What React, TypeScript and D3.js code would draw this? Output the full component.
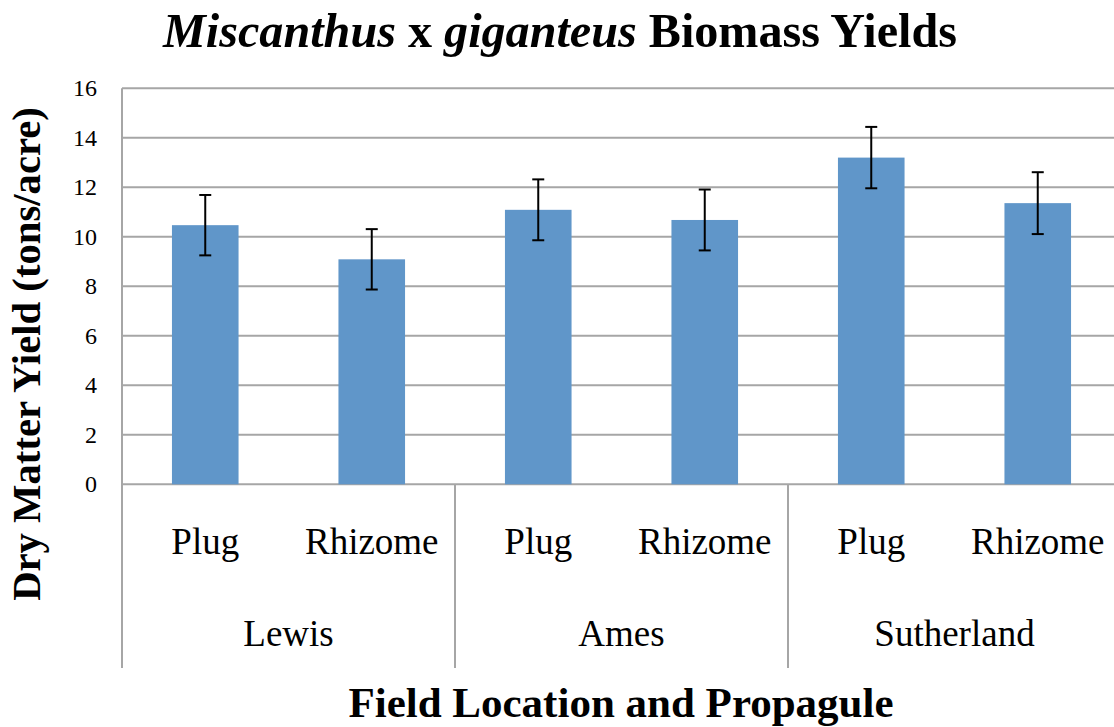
import { useEffect, useRef } from 'react';
import * as d3 from 'd3';

// Field locations and propagule types
const locations = ['Lewis', 'Ames', 'Sutherland'];
const propagules = ['Plug', 'Rhizome'];

// Mean dry matter yield (tons/acre), in order Lewis Plug, Lewis Rhizome, Ames Plug, ...
const yields = [10.47, 9.09, 11.09, 10.68, 13.2, 11.36];
// Error bar half-widths
const errors = [1.22, 1.22, 1.23, 1.23, 1.24, 1.25];

const yTicks = [0, 2, 4, 6, 8, 10, 12, 14, 16];

export default function App() {
  const svgRef = useRef<SVGSVGElement>(null);

  useEffect(() => {
    if (!svgRef.current) return;
    const svg = d3.select(svgRef.current);
    svg.selectAll('*').remove();

    const plotLeft = 122;
    const plotRight = 1121;
    const plotTop = 88.3;
    const plotBottom = 484.3;
    const axisBottom = 668;
    const font = '"Liberation Serif", "Times New Roman", serif';
    const gridColor = '#a6a6a6';

    const bars = locations.flatMap(loc => propagules.map(p => ({ loc, p, key: `${loc}-${p}` })));
    const data = bars.map((b, i) => ({ ...b, value: yields[i], err: errors[i] }));

    const x = d3.scaleBand<string>()
      .domain(data.map(d => d.key))
      .range([plotLeft, plotRight])
      .paddingInner(0.6)
      .paddingOuter(0.3);

    const xGroup = d3.scaleBand<string>()
      .domain(locations)
      .range([plotLeft, plotRight]);

    const y = d3.scaleLinear()
      .domain([0, 16])
      .range([plotBottom, plotTop]);

    // Gridlines
    svg.append('g')
      .selectAll('line')
      .data(yTicks)
      .enter()
      .append('line')
      .attr('x1', plotLeft).attr('x2', plotRight)
      .attr('y1', d => y(d)).attr('y2', d => y(d))
      .attr('stroke', gridColor)
      .attr('stroke-width', 2);

    // Y tick labels
    svg.append('g')
      .selectAll('text')
      .data(yTicks)
      .enter()
      .append('text')
      .attr('x', 97)
      .attr('y', d => y(d) + 8)
      .attr('text-anchor', 'end')
      .style('font-family', font)
      .style('font-size', '24px')
      .attr('fill', '#000')
      .text(d => d);

    // Y axis line and category separators
    svg.append('line')
      .attr('x1', plotLeft).attr('x2', plotLeft)
      .attr('y1', plotTop).attr('y2', axisBottom)
      .attr('stroke', gridColor).attr('stroke-width', 2);

    locations.forEach(loc => {
      const gx = (xGroup(loc) as number) + xGroup.bandwidth();
      svg.append('line')
        .attr('x1', gx).attr('x2', gx)
        .attr('y1', plotBottom).attr('y2', axisBottom)
        .attr('stroke', gridColor).attr('stroke-width', 2);
    });

    // Bars
    svg.append('g')
      .selectAll('rect')
      .data(data)
      .enter()
      .append('rect')
      .attr('x', d => x(d.key) as number)
      .attr('y', d => y(d.value))
      .attr('width', x.bandwidth())
      .attr('height', d => y(0) - y(d.value))
      .attr('fill', '#6096c9');

    // Error bars
    const eb = svg.append('g')
      .selectAll('g')
      .data(data)
      .enter()
      .append('g')
      .attr('stroke', '#000')
      .attr('stroke-width', 2);
    const cx = (d: typeof data[number]) => (x(d.key) as number) + x.bandwidth() / 2;
    eb.append('line')
      .attr('x1', cx).attr('x2', cx)
      .attr('y1', d => y(d.value + d.err)).attr('y2', d => y(d.value - d.err));
    eb.append('line')
      .attr('x1', d => cx(d) - 6).attr('x2', d => cx(d) + 6)
      .attr('y1', d => y(d.value + d.err)).attr('y2', d => y(d.value + d.err));
    eb.append('line')
      .attr('x1', d => cx(d) - 6).attr('x2', d => cx(d) + 6)
      .attr('y1', d => y(d.value - d.err)).attr('y2', d => y(d.value - d.err));

    // Propagule labels
    svg.append('g')
      .selectAll('text')
      .data(data)
      .enter()
      .append('text')
      .attr('x', cx)
      .attr('y', 554)
      .attr('text-anchor', 'middle')
      .style('font-family', font)
      .style('font-size', '37px')
      .text(d => d.p);

    // Location labels
    svg.append('g')
      .selectAll('text')
      .data(locations)
      .enter()
      .append('text')
      .attr('x', d => (xGroup(d) as number) + xGroup.bandwidth() / 2)
      .attr('y', 646)
      .attr('text-anchor', 'middle')
      .style('font-family', font)
      .style('font-size', '37px')
      .text(d => d);

    // Axis titles
    svg.append('text')
      .attr('x', 621)
      .attr('y', 717)
      .attr('text-anchor', 'middle')
      .style('font-family', font)
      .style('font-size', '43px')
      .style('font-weight', 'bold')
      .text('Field Location and Propagule');

    const yTitle = svg.append('text')
      .attr('transform', 'translate(40,354) rotate(-90)')
      .attr('text-anchor', 'middle')
      .style('font-family', font)
      .style('font-size', '40px')
      .style('font-weight', 'bold')
      .text('Dry Matter Yield (tons/acre)');
    const yw = (yTitle.node() as SVGTextElement).getComputedTextLength();
    if (yw > 0) yTitle.style('font-size', `${(40 * 494) / yw}px`);

    // Title, sized so it spans the same width as the reference
    const title = svg.append('text')
      .attr('x', 560)
      .attr('y', 47)
      .attr('text-anchor', 'middle')
      .style('font-family', font)
      .style('font-size', '48px')
      .style('font-weight', 'bold');
    title.append('tspan').style('font-style', 'italic').text('Miscanthus');
    title.append('tspan').text(' x ');
    title.append('tspan').style('font-style', 'italic').text('giganteus');
    title.append('tspan').text(' Biomass Yields');
    const tw = (title.node() as SVGTextElement).getComputedTextLength();
    if (tw > 0) title.style('font-size', `${(48 * 794) / tw}px`);
  }, []);

  return (
    <svg
      ref={svgRef}
      width={1114}
      height={727}
      style={{ position: 'absolute', left: 0, top: 0, background: '#fff' }}
    />
  );
}
